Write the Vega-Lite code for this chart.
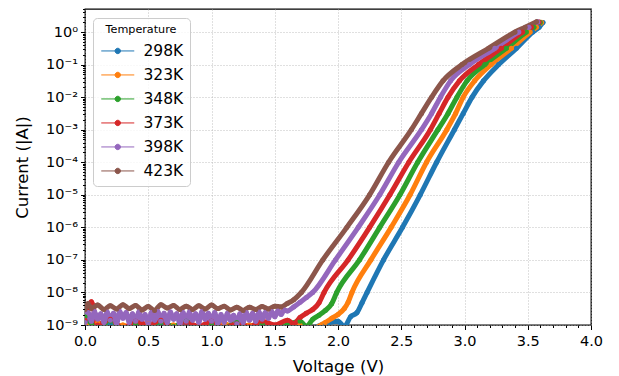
{
"$schema": "https://vega.github.io/schema/vega-lite/v6.json",
"width": 506, "height": 316,
"autosize": "none",
"padding": {"left": 85, "top": 9, "right": 28, "bottom": 51},
"data": {"values": [
{"T":"298K","V":0.0,"I":1.3e-9},{"T":"298K","V":0.1,"I":0.8e-9},{"T":"298K","V":0.2,"I":1.1e-9},{"T":"298K","V":0.3,"I":0.7e-9},{"T":"298K","V":0.4,"I":1.2e-9},{"T":"298K","V":0.5,"I":0.8e-9},{"T":"298K","V":0.6,"I":1.0e-9},{"T":"298K","V":0.7,"I":0.6e-9},{"T":"298K","V":0.8,"I":1.1e-9},{"T":"298K","V":0.9,"I":0.8e-9},{"T":"298K","V":1.0,"I":1.2e-9},{"T":"298K","V":1.1,"I":0.7e-9},{"T":"298K","V":1.2,"I":0.9e-9},{"T":"298K","V":1.3,"I":0.6e-9},{"T":"298K","V":1.4,"I":1.0e-9},{"T":"298K","V":1.5,"I":0.7e-9},{"T":"298K","V":1.6,"I":0.9e-9},{"T":"298K","V":1.7,"I":0.6e-9},{"T":"298K","V":1.8,"I":0.8e-9},{"T":"298K","V":1.9,"I":1.1e-9},{"T":"298K","V":2.0,"I":1.3e-9},{"T":"298K","V":2.05,"I":0.9e-9},{"T":"298K","V":2.1,"I":1.8e-9},{"T":"298K","V":2.15,"I":2.4e-9},{"T":"298K","V":2.19,"I":4.8e-9},{"T":"298K","V":2.23,"I":1e-8},{"T":"298K","V":2.36,"I":1e-7},{"T":"298K","V":2.51,"I":1e-6},{"T":"298K","V":2.65,"I":1e-5},{"T":"298K","V":2.78,"I":1e-4},{"T":"298K","V":2.92,"I":1e-3},{"T":"298K","V":2.99,"I":3.16e-3},{"T":"298K","V":3.06,"I":1e-2},{"T":"298K","V":3.15,"I":3.16e-2},{"T":"298K","V":3.27,"I":0.1},{"T":"298K","V":3.41,"I":0.316},{"T":"298K","V":3.54,"I":1.0},{"T":"298K","V":3.59,"I":1.41},{"T":"298K","V":3.62,"I":1.95},
{"T":"323K","V":0.0,"I":0.9e-9},{"T":"323K","V":0.1,"I":1.2e-9},{"T":"323K","V":0.2,"I":0.7e-9},{"T":"323K","V":0.3,"I":1.0e-9},{"T":"323K","V":0.4,"I":0.6e-9},{"T":"323K","V":0.5,"I":1.1e-9},{"T":"323K","V":0.6,"I":0.8e-9},{"T":"323K","V":0.7,"I":1.0e-9},{"T":"323K","V":0.8,"I":0.6e-9},{"T":"323K","V":0.9,"I":0.9e-9},{"T":"323K","V":1.0,"I":0.7e-9},{"T":"323K","V":1.1,"I":1.1e-9},{"T":"323K","V":1.2,"I":0.8e-9},{"T":"323K","V":1.3,"I":1.0e-9},{"T":"323K","V":1.4,"I":0.6e-9},{"T":"323K","V":1.5,"I":0.9e-9},{"T":"323K","V":1.6,"I":0.7e-9},{"T":"323K","V":1.7,"I":1.0e-9},{"T":"323K","V":1.8,"I":0.8e-9},{"T":"323K","V":1.9,"I":1.2e-9},{"T":"323K","V":1.95,"I":1.6e-9},{"T":"323K","V":2.0,"I":2.1e-9},{"T":"323K","V":2.05,"I":3.2e-9},{"T":"323K","V":2.08,"I":5.0e-9},{"T":"323K","V":2.11,"I":1e-8},{"T":"323K","V":2.26,"I":1e-7},{"T":"323K","V":2.42,"I":1e-6},{"T":"323K","V":2.57,"I":1e-5},{"T":"323K","V":2.70,"I":1e-4},{"T":"323K","V":2.86,"I":1e-3},{"T":"323K","V":2.93,"I":3.16e-3},{"T":"323K","V":2.99,"I":1e-2},{"T":"323K","V":3.08,"I":3.16e-2},{"T":"323K","V":3.21,"I":0.1},{"T":"323K","V":3.37,"I":0.316},{"T":"323K","V":3.52,"I":1.0},{"T":"323K","V":3.57,"I":1.41},{"T":"323K","V":3.61,"I":1.97},
{"T":"348K","V":0.0,"I":1.8e-9},{"T":"348K","V":0.1,"I":0.9e-9},{"T":"348K","V":0.2,"I":1.3e-9},{"T":"348K","V":0.3,"I":0.8e-9},{"T":"348K","V":0.4,"I":1.1e-9},{"T":"348K","V":0.5,"I":0.7e-9},{"T":"348K","V":0.6,"I":1.2e-9},{"T":"348K","V":0.7,"I":0.9e-9},{"T":"348K","V":0.8,"I":1.3e-9},{"T":"348K","V":0.9,"I":0.7e-9},{"T":"348K","V":1.0,"I":1.0e-9},{"T":"348K","V":1.1,"I":0.8e-9},{"T":"348K","V":1.2,"I":1.2e-9},{"T":"348K","V":1.3,"I":0.7e-9},{"T":"348K","V":1.4,"I":1.1e-9},{"T":"348K","V":1.5,"I":0.8e-9},{"T":"348K","V":1.6,"I":1.0e-9},{"T":"348K","V":1.7,"I":1.3e-9},{"T":"348K","V":1.75,"I":0.9e-9},{"T":"348K","V":1.8,"I":1.5e-9},{"T":"348K","V":1.85,"I":2.0e-9},{"T":"348K","V":1.9,"I":2.8e-9},{"T":"348K","V":1.95,"I":4.5e-9},{"T":"348K","V":1.99,"I":1e-8},{"T":"348K","V":2.17,"I":1e-7},{"T":"348K","V":2.33,"I":1e-6},{"T":"348K","V":2.49,"I":1e-5},{"T":"348K","V":2.63,"I":1e-4},{"T":"348K","V":2.79,"I":1e-3},{"T":"348K","V":2.87,"I":3.16e-3},{"T":"348K","V":2.94,"I":1e-2},{"T":"348K","V":3.02,"I":3.16e-2},{"T":"348K","V":3.16,"I":0.1},{"T":"348K","V":3.33,"I":0.316},{"T":"348K","V":3.49,"I":1.0},{"T":"348K","V":3.55,"I":1.41},{"T":"348K","V":3.60,"I":1.98},
{"T":"373K","V":0.0,"I":1.4e-9},{"T":"373K","V":0.05,"I":5.2e-9},{"T":"373K","V":0.1,"I":1.0e-9},{"T":"373K","V":0.2,"I":1.5e-9},{"T":"373K","V":0.3,"I":0.8e-9},{"T":"373K","V":0.4,"I":1.3e-9},{"T":"373K","V":0.5,"I":1.0e-9},{"T":"373K","V":0.6,"I":1.4e-9},{"T":"373K","V":0.7,"I":0.7e-9},{"T":"373K","V":0.8,"I":1.2e-9},{"T":"373K","V":0.9,"I":0.9e-9},{"T":"373K","V":1.0,"I":1.3e-9},{"T":"373K","V":1.1,"I":0.8e-9},{"T":"373K","V":1.2,"I":1.1e-9},{"T":"373K","V":1.3,"I":0.9e-9},{"T":"373K","V":1.4,"I":1.3e-9},{"T":"373K","V":1.5,"I":1.0e-9},{"T":"373K","V":1.6,"I":1.4e-9},{"T":"373K","V":1.65,"I":1.1e-9},{"T":"373K","V":1.7,"I":1.7e-9},{"T":"373K","V":1.75,"I":2.3e-9},{"T":"373K","V":1.8,"I":3.0e-9},{"T":"373K","V":1.85,"I":4.8e-9},{"T":"373K","V":1.89,"I":1e-8},{"T":"373K","V":2.08,"I":1e-7},{"T":"373K","V":2.25,"I":1e-6},{"T":"373K","V":2.41,"I":1e-5},{"T":"373K","V":2.56,"I":1e-4},{"T":"373K","V":2.73,"I":1e-3},{"T":"373K","V":2.80,"I":3.16e-3},{"T":"373K","V":2.87,"I":1e-2},{"T":"373K","V":2.96,"I":3.16e-2},{"T":"373K","V":3.11,"I":0.1},{"T":"373K","V":3.29,"I":0.316},{"T":"373K","V":3.46,"I":1.0},{"T":"373K","V":3.53,"I":1.41},{"T":"373K","V":3.59,"I":2.0},
{"T":"398K","V":0.0,"I":1.2e-9},{"T":"398K","V":0.025,"I":2.4e-9},{"T":"398K","V":0.05,"I":1.3e-9},{"T":"398K","V":0.075,"I":2.6e-9},{"T":"398K","V":0.1,"I":1.5e-9},{"T":"398K","V":0.125,"I":2.2e-9},{"T":"398K","V":0.15,"I":1.2e-9},{"T":"398K","V":0.175,"I":2.5e-9},{"T":"398K","V":0.2,"I":1.4e-9},{"T":"398K","V":0.225,"I":2.3e-9},{"T":"398K","V":0.25,"I":1.1e-9},{"T":"398K","V":0.275,"I":2.6e-9},{"T":"398K","V":0.3,"I":1.6e-9},{"T":"398K","V":0.325,"I":2.4e-9},{"T":"398K","V":0.35,"I":1.2e-9},{"T":"398K","V":0.375,"I":2.2e-9},{"T":"398K","V":0.4,"I":1.3e-9},{"T":"398K","V":0.425,"I":2.5e-9},{"T":"398K","V":0.45,"I":1.5e-9},{"T":"398K","V":0.475,"I":2.1e-9},{"T":"398K","V":0.5,"I":1.1e-9},{"T":"398K","V":0.525,"I":2.4e-9},{"T":"398K","V":0.55,"I":1.4e-9},{"T":"398K","V":0.575,"I":2.6e-9},{"T":"398K","V":0.6,"I":1.3e-9},{"T":"398K","V":0.625,"I":2.3e-9},{"T":"398K","V":0.65,"I":1.2e-9},{"T":"398K","V":0.675,"I":2.5e-9},{"T":"398K","V":0.7,"I":1.5e-9},{"T":"398K","V":0.725,"I":2.2e-9},{"T":"398K","V":0.75,"I":1.1e-9},{"T":"398K","V":0.775,"I":2.4e-9},{"T":"398K","V":0.8,"I":1.3e-9},{"T":"398K","V":0.825,"I":2.5e-9},{"T":"398K","V":0.85,"I":1.4e-9},{"T":"398K","V":0.875,"I":2.2e-9},{"T":"398K","V":0.9,"I":1.2e-9},{"T":"398K","V":0.925,"I":2.6e-9},{"T":"398K","V":0.95,"I":1.5e-9},{"T":"398K","V":0.975,"I":2.3e-9},{"T":"398K","V":1.0,"I":1.3e-9},{"T":"398K","V":1.025,"I":2.4e-9},{"T":"398K","V":1.05,"I":1.1e-9},{"T":"398K","V":1.075,"I":2.1e-9},{"T":"398K","V":1.1,"I":1.2e-9},{"T":"398K","V":1.125,"I":2.3e-9},{"T":"398K","V":1.15,"I":1.4e-9},{"T":"398K","V":1.175,"I":2.0e-9},{"T":"398K","V":1.2,"I":1.1e-9},{"T":"398K","V":1.225,"I":2.2e-9},{"T":"398K","V":1.25,"I":1.2e-9},{"T":"398K","V":1.275,"I":2.4e-9},{"T":"398K","V":1.3,"I":1.4e-9},{"T":"398K","V":1.325,"I":2.3e-9},{"T":"398K","V":1.35,"I":1.3e-9},{"T":"398K","V":1.375,"I":2.5e-9},{"T":"398K","V":1.4,"I":1.5e-9},{"T":"398K","V":1.425,"I":2.4e-9},{"T":"398K","V":1.45,"I":1.6e-9},{"T":"398K","V":1.475,"I":2.6e-9},{"T":"398K","V":1.5,"I":1.8e-9},{"T":"398K","V":1.525,"I":2.7e-9},{"T":"398K","V":1.55,"I":2.1e-9},{"T":"398K","V":1.575,"I":2.9e-9},{"T":"398K","V":1.6,"I":2.7e-9},{"T":"398K","V":1.65,"I":3.6e-9},{"T":"398K","V":1.7,"I":5.0e-9},{"T":"398K","V":1.75,"I":7.0e-9},{"T":"398K","V":1.80,"I":1e-8},{"T":"398K","V":1.98,"I":1e-7},{"T":"398K","V":2.16,"I":1e-6},{"T":"398K","V":2.33,"I":1e-5},{"T":"398K","V":2.48,"I":1e-4},{"T":"398K","V":2.66,"I":1e-3},{"T":"398K","V":2.74,"I":3.16e-3},{"T":"398K","V":2.81,"I":1e-2},{"T":"398K","V":2.89,"I":3.16e-2},{"T":"398K","V":3.04,"I":0.1},{"T":"398K","V":3.24,"I":0.316},{"T":"398K","V":3.43,"I":1.0},{"T":"398K","V":3.51,"I":1.41},{"T":"398K","V":3.58,"I":2.02},
{"T":"423K","V":0.0,"I":3.0e-9},{"T":"423K","V":0.025,"I":4.6e-9},{"T":"423K","V":0.05,"I":3.2e-9},{"T":"423K","V":0.1,"I":4.1e-9},{"T":"423K","V":0.15,"I":3.0e-9},{"T":"423K","V":0.2,"I":3.9e-9},{"T":"423K","V":0.25,"I":3.1e-9},{"T":"423K","V":0.3,"I":4.2e-9},{"T":"423K","V":0.35,"I":3.2e-9},{"T":"423K","V":0.4,"I":4.0e-9},{"T":"423K","V":0.45,"I":2.9e-9},{"T":"423K","V":0.5,"I":3.7e-9},{"T":"423K","V":0.55,"I":2.8e-9},{"T":"423K","V":0.6,"I":4.2e-9},{"T":"423K","V":0.65,"I":3.3e-9},{"T":"423K","V":0.7,"I":4.0e-9},{"T":"423K","V":0.75,"I":3.0e-9},{"T":"423K","V":0.8,"I":3.8e-9},{"T":"423K","V":0.85,"I":3.0e-9},{"T":"423K","V":0.9,"I":3.9e-9},{"T":"423K","V":0.95,"I":3.1e-9},{"T":"423K","V":1.0,"I":4.1e-9},{"T":"423K","V":1.05,"I":3.2e-9},{"T":"423K","V":1.1,"I":3.8e-9},{"T":"423K","V":1.15,"I":2.9e-9},{"T":"423K","V":1.2,"I":3.5e-9},{"T":"423K","V":1.25,"I":2.8e-9},{"T":"423K","V":1.3,"I":3.5e-9},{"T":"423K","V":1.35,"I":3.0e-9},{"T":"423K","V":1.4,"I":3.7e-9},{"T":"423K","V":1.45,"I":3.1e-9},{"T":"423K","V":1.5,"I":3.8e-9},{"T":"423K","V":1.55,"I":3.6e-9},{"T":"423K","V":1.6,"I":4.6e-9},{"T":"423K","V":1.65,"I":6.0e-9},{"T":"423K","V":1.71,"I":1e-8},{"T":"423K","V":1.88,"I":1e-7},{"T":"423K","V":2.07,"I":1e-6},{"T":"423K","V":2.25,"I":1e-5},{"T":"423K","V":2.40,"I":1e-4},{"T":"423K","V":2.58,"I":1e-3},{"T":"423K","V":2.66,"I":3.16e-3},{"T":"423K","V":2.74,"I":1e-2},{"T":"423K","V":2.83,"I":3.16e-2},{"T":"423K","V":2.98,"I":0.1},{"T":"423K","V":3.19,"I":0.316},{"T":"423K","V":3.40,"I":1.0},{"T":"423K","V":3.48,"I":1.41},{"T":"423K","V":3.57,"I":2.08}
]},
"layer": [
{"mark": {"type": "line", "strokeWidth": 5, "clip": true, "strokeCap": "round", "strokeJoin": "round", "interpolate": "monotone"},
 "encoding": {
  "x": {"field": "V", "type": "quantitative", "scale": {"domain": [0, 4], "nice": false, "zero": false},
        "axis": {"values": [0, 0.5, 1, 1.5, 2, 2.5, 3, 3.5, 4], "format": ".1f", "labelFontSize": 14.5, "tickSize": 4.5, "labelPadding": 5, "labelFlush": false, "labelOverlap": false, "grid": true, "gridColor": "#b0b0b0", "gridDash": [1, 2], "gridWidth": 0.8, "domain": false, "title": "Voltage (V)", "titleFontSize": 16.5, "titlePadding": 10}},
  "y": {"field": "I", "type": "quantitative", "scale": {"type": "log", "domain": [1e-9, 5.1], "nice": false},
        "axis": {"values": [1e-9, 1e-8, 1e-7, 1e-6, 1e-5, 1e-4, 1e-3, 1e-2, 1e-1, 1], "labelExpr": "'10' + (round(log(datum.value)/LN10) < 0 ? '⁻' : '') + substring('⁰¹²³⁴⁵⁶⁷⁸⁹', abs(round(log(datum.value)/LN10)), abs(round(log(datum.value)/LN10)) + 1)", "labelFontSize": 14.5, "tickSize": 4.5, "labelPadding": 3, "labelFlush": false, "labelOverlap": false, "grid": true, "gridColor": "#b0b0b0", "gridDash": [1, 2], "gridWidth": 0.8, "domain": false, "title": "Current (|A|)", "titleFontSize": 16.5, "titlePadding": 15}},
  "color": {"field": "T", "type": "nominal",
        "scale": {"domain": ["298K", "323K", "348K", "373K", "398K", "423K"], "range": ["#1f77b4", "#ff7f0e", "#2ca02c", "#d62728", "#9467bd", "#8c564b"]},
        "legend": {"title": "Temperature", "orient": "none", "legendX": 8, "legendY": 9, "titleFontSize": 11.2, "titleFontWeight": "normal", "titleAnchor": "middle", "labelFontSize": 15.5,
                   "symbolType": "M-3,0L3,0M-0.49,0A0.49,0.49,0,1,1,0.49,0A0.49,0.49,0,1,1,-0.49,0Z", "symbolSize": 121, "symbolOffset": 11, "labelOffset": 18,
                   "padding": 6, "rowPadding": 7, "titlePadding": 8, "fillColor": "rgba(255,255,255,0.8)", "strokeColor": "#cccccc", "cornerRadius": 4,
                   "encode": {"symbols": {"update": {"fill": {"scale": "color", "field": "value"}, "stroke": {"scale": "color", "field": "value"}, "strokeWidth": {"value": 1}, "opacity": {"value": 1}}}}}}
 }},
{"mark": {"type": "point", "filled": true, "size": 25, "opacity": 1, "clip": true},
 "encoding": {
  "x": {"field": "V", "type": "quantitative", "axis": null},
  "y": {"field": "I", "type": "quantitative", "axis": null},
  "color": {"field": "T", "type": "nominal"}
 }},
{"mark": {"type": "point", "opacity": 0},
 "encoding": {
  "x": {"field": "V", "type": "quantitative", "axis": {"orient": "bottom", "values": [0.1,0.2,0.3,0.4,0.6,0.7,0.8,0.9,1.1,1.2,1.3,1.4,1.6,1.7,1.8,1.9,2.1,2.2,2.3,2.4,2.6,2.7,2.8,2.9,3.1,3.2,3.3,3.4,3.6,3.7,3.8,3.9], "tickSize": 2.5, "labels": false, "domain": false, "grid": false, "title": null}},
  "y": {"field": "I", "type": "quantitative", "axis": {"orient": "left", "values": [2e-9,3e-9,4e-9,5e-9,6e-9,7e-9,8e-9,9e-9,2e-8,3e-8,4e-8,5e-8,6e-8,7e-8,8e-8,9e-8,2e-7,3e-7,4e-7,5e-7,6e-7,7e-7,8e-7,9e-7,2e-6,3e-6,4e-6,5e-6,6e-6,7e-6,8e-6,9e-6,2e-5,3e-5,4e-5,5e-5,6e-5,7e-5,8e-5,9e-5,2e-4,3e-4,4e-4,5e-4,6e-4,7e-4,8e-4,9e-4,2e-3,3e-3,4e-3,5e-3,6e-3,7e-3,8e-3,9e-3,0.02,0.03,0.04,0.05,0.06,0.07,0.08,0.09,0.2,0.3,0.4,0.5,0.6,0.7,0.8,0.9,2,3,4,5], "tickSize": 2.5, "labels": false, "domain": false, "grid": false, "title": null}}
 }}
],
"resolve": {"axis": {"x": "independent", "y": "independent"}},
"config": {
  "font": "DejaVu Sans",
  "view": {"stroke": "#000000", "strokeWidth": 1.3},
  "axis": {"labelColor": "#000000", "titleColor": "#000000", "tickColor": "#000000", "tickWidth": 1, "labelFont": "DejaVu Sans", "titleFont": "DejaVu Sans", "titleFontWeight": "normal"},
  "legend": {"labelFont": "DejaVu Sans", "titleFont": "DejaVu Sans", "labelColor": "#000000", "titleColor": "#000000"}
}
}
